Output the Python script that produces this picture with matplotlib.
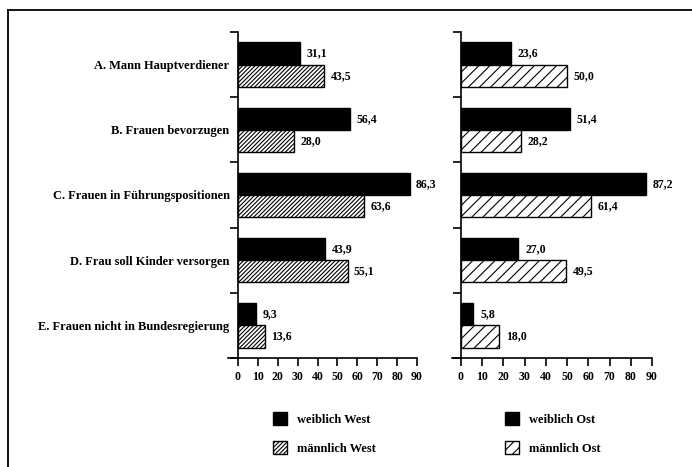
import numpy as np
import matplotlib
matplotlib.use("Agg")
import matplotlib.pyplot as plt
from matplotlib.patches import Patch
from matplotlib.lines import Line2D

categories = ["A. Mann Hauptverdiener", "B. Frauen bevorzugen", "C. Frauen in Führungspositionen",
              "D. Frau soll Kinder versorgen", "E. Frauen nicht in Bundesregierung"]
weiblich_west = [31.1, 56.4, 86.3, 43.9, 9.3]
maennlich_west = [43.5, 28.0, 63.6, 55.1, 13.6]
weiblich_ost = [23.6, 51.4, 87.2, 27.0, 5.8]
maennlich_ost = [50.0, 28.2, 61.4, 49.5, 18.0]
xticks = [0, 10, 20, 30, 40, 50, 60, 70, 80, 90]

plt.rcParams['font.family'] = ['Liberation Serif', 'DejaVu Serif']
plt.rcParams['font.weight'] = 'bold'
plt.rcParams['hatch.linewidth'] = 0.8

W, H = 692, 467
fig = plt.figure(figsize=(W / 100, H / 100), dpi=100)


def px_axes(x0, x1, y0, y1):
    # pixel box -> figure fraction
    return fig.add_axes([x0 / W, 1 - y1 / H, (x1 - x0) / W, (y1 - y0) / H])


def fmt(v):
    return f"{v:.1f}".replace(".", ",")


def draw_panel(ax, women, men, hatch, xmin, show_labels):
    y = np.arange(len(categories))
    ax.barh(y - 0.17, women, height=0.34, color="black", edgecolor="black", linewidth=1)
    ax.barh(y + 0.17, men, height=0.34, color="white", edgecolor="black", hatch=hatch, linewidth=1)
    for i in range(len(categories)):
        ax.text(women[i] + 3.2, y[i] - 0.17, fmt(women[i]), va="center", ha="left", fontsize=8.5)
        ax.text(men[i] + 3.2, y[i] + 0.17, fmt(men[i]), va="center", ha="left", fontsize=8.5)
    ax.set_xlim(xmin, 90)
    ax.set_ylim(len(categories) - 0.5, -0.5)
    ax.spines["left"].set_position(("data", 0))
    ax.spines["top"].set_visible(False)
    ax.spines["right"].set_visible(False)
    ax.spines["left"].set_linewidth(1.2)
    ax.spines["bottom"].set_linewidth(1.2)
    ax.set_xticks(xticks)
    ax.set_xticklabels([str(t) for t in xticks], fontsize=8.5)
    ax.tick_params(axis="x", direction="out", length=6, width=1.2, pad=3)
    ax.set_yticks(np.arange(len(categories) + 1) - 0.5)
    ax.set_yticklabels([])
    ax.tick_params(axis="y", which="major", direction="out", length=6, width=1.2)
    if show_labels:
        ax.set_yticks(y, categories, minor=True)
        ax.tick_params(axis="y", which="minor", length=0, pad=6, labelsize=9)
    else:
        ax.set_yticks([], minor=True)
    ax.patch.set_visible(False)


ax1 = px_axes(228, 417, 32, 358)
draw_panel(ax1, weiblich_west, maennlich_west, "////////", -5, True)
ax2 = px_axes(452, 652, 32, 358)
draw_panel(ax2, weiblich_ost, maennlich_ost, "///", -4.2, False)

# legends
for x0, names, hatch in [(273, ["weiblich West", "männlich West"], "////////"),
                         (505, ["weiblich Ost", "männlich Ost"], "///")]:
    handles = [Patch(facecolor="black", edgecolor="black", label=names[0]),
               Patch(facecolor="white", edgecolor="black", hatch=hatch, label=names[1])]
    fig.legend(handles=handles, loc="upper left", bbox_to_anchor=(x0 / W, 1 - 412 / H),
               frameon=False, fontsize=9, handlelength=1.1, handleheight=1.2,
               handletextpad=0.8, labelspacing=1.25, borderpad=0, borderaxespad=0)

# outer frame (left and top edges of the scanned box)
fig.add_artist(Line2D([7.5 / W, 7.5 / W], [0, 1 - 10 / H], color="black", lw=1.3))
fig.add_artist(Line2D([7.5 / W, 1], [1 - 10 / H, 1 - 10 / H], color="black", lw=1.3))

fig.savefig("out.png", dpi=100)
